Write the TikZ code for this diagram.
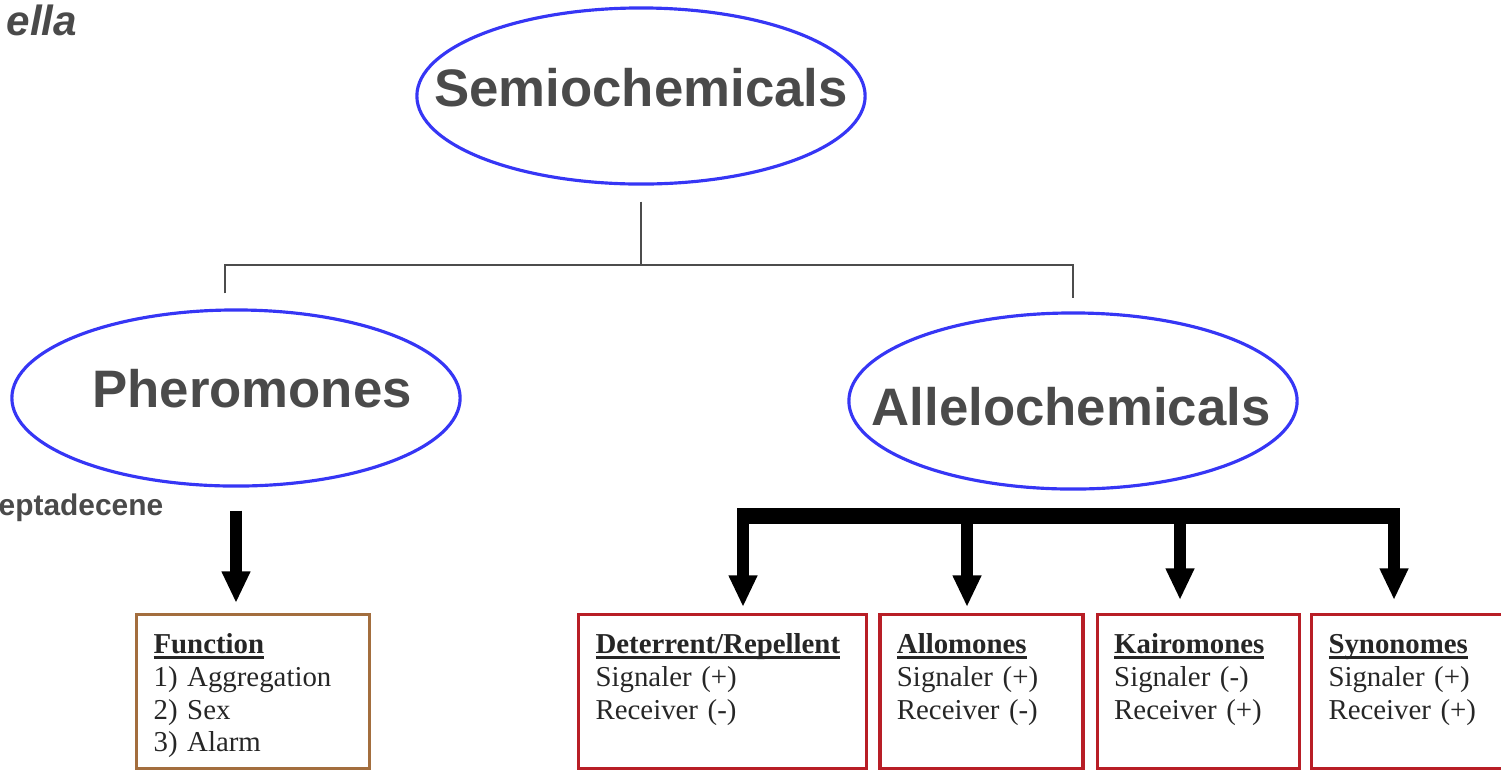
\documentclass[tikz,border=0pt]{standalone}
\usepackage{fontspec}
\setmainfont{Liberation Serif}
\setsansfont{Liberation Sans}
\usetikzlibrary{arrows.meta, positioning, shapes.geometric}
\definecolor{ovalblue}{HTML}{3636F5}
\definecolor{titlegray}{HTML}{4A4A4A}
\definecolor{boxred}{HTML}{B81E26}
\definecolor{boxbrown}{HTML}{A36E3E}
% bold heading with an underline that does not push the next line down
\newcommand{\headul}[1]{\setbox0\hbox{\textbf{#1}}\rlap{\rule[-1.5pt]{\wd0}{0.75pt}}\box0}

\begin{document}
\begin{tikzpicture}[
                        x = 0.01cm, y = 0.01cm,
                        oval/.style   = {draw=ovalblue, line width=0.9pt, ellipse, inner sep=0pt,
                                        minimum width=4.48cm, minimum height=1.76cm},
                        bigtxt/.style = {font=\sffamily\bfseries\fontsize{15}{18}\selectfont, text=titlegray, inner sep=0pt},
                        cuttxt/.style = {text=titlegray, inner sep=0pt},
                        tbox/.style   = {draw, line width=0.9pt, align=left, anchor=north west,
                                        inner xsep=0.17cm, inner ysep=0.1cm, text height=0.29cm, text depth=1.05cm,
                                        font=\fontsize{8.2}{9.3}\selectfont, text=black!85},
                        redbox/.style = {tbox, draw=boxred},
                        tree/.style   = {draw=black!70, line width=0.6pt},
                        fat/.style    = {line width=3.4pt, -{Triangle[width=7.6pt, length=9pt]}},
                        bar/.style    = {line width=4.8pt}
                  ]
                  \useasboundingbox (0,0) rectangle (1501,-769);

                  % cut-off labels at the left edge
                  \node[cuttxt, anchor=base west, font=\sffamily\bfseries\itshape\fontsize{12}{14}\selectfont] (ella) at (6,-35) {ella};
                  \node[cuttxt, anchor=west, font=\sffamily\bfseries\fontsize{8.5}{10}\selectfont] (hepta) at (-2,-508) {eptadecene};

                  % ovals
                  \node[oval] (semio) at (641,-96) {};
                  \node[oval] (pher) at (236,-398) {};
                  \node[oval] (allo) at (1073,-401) {};
                  \node[bigtxt] (semiotxt) at ([yshift=0.08cm]semio) {Semiochemicals};
                  \node[bigtxt] (phertxt)  at ([xshift=0.16cm, yshift=0.09cm]pher) {Pheromones};
                  \node[bigtxt] (allotxt)  at ([xshift=-0.02cm, yshift=-0.06cm]allo) {Allelochemicals};

                  % tree
                  \coordinate (fork) at ([yshift=-0.79cm]semio.south);
                  \draw[tree] ([yshift=-0.16cm]semio.south) -- (fork);
                  \draw[tree] ([xshift=-0.11cm, yshift=0.15cm]pher.north) |- (fork) -| ([yshift=0.13cm]allo.north);

                  % boxes
                  \node[tbox, draw=boxbrown, text width=1.99cm] (func) at (135,-613)
                        {\headul{Function}\\1) Aggregation\\2) Sex\\3) Alarm};
                  \node[redbox, text width=2.54cm] (deter) at (577,-613)
                        {\headul{Deterrent/Repellent}\\Signaler (+)\\Receiver (-)};
                  \node[redbox, text width=1.69cm, right=0.10cm of deter] (allom)
                        {\headul{Allomones}\\Signaler (+)\\Receiver (-)};
                  \node[redbox, text width=1.68cm, right=0.11cm of allom] (kairo)
                        {\headul{Kairomones}\\Signaler (-)\\Receiver (+)};
                  \node[redbox, text width=1.69cm, right=0.09cm of kairo] (syno)
                        {\headul{Synonomes}\\Signaler (+)\\Receiver (+)};

                  % arrows
                  \coordinate (pstart) at ([yshift=-0.23cm]pher.south);
                  \draw[fat, shorten >=0.1cm] (pstart) -- (pstart |- func.north);

                  \coordinate (b1) at (743,-516);
                  \coordinate (b2) at (967,-516);
                  \coordinate (b3) at (1180,-516);
                  \coordinate (b4) at (1394,-516);
                  \draw[bar] (737,-516) -- (1400,-516);
                  \draw[fat, shorten >=0.06cm] (b1) -- (b1 |- deter.north);
                  \draw[fat, shorten >=0.06cm] (b2) -- (b2 |- allom.north);
                  \draw[fat, shorten >=0.13cm] (b3) -- (b3 |- kairo.north);
                  \draw[fat, shorten >=0.13cm] (b4) -- (b4 |- syno.north);
            \end{tikzpicture}
\end{document}
